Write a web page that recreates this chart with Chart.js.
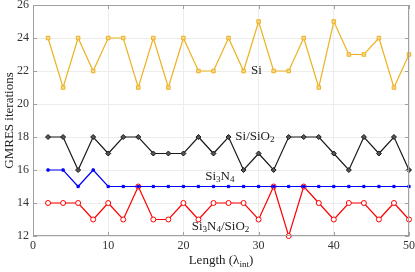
<!DOCTYPE html>
<html>
<head>
<meta charset="utf-8">
<script src="https://cdn.jsdelivr.net/npm/chart.js@4"></script>
<style>
  html, body { margin: 0; padding: 0; background: #fff; }
  #wrap { width: 415px; height: 272px; }
</style>
</head>
<body>
<div id="wrap"><canvas id="myChart" width="415" height="272"></canvas></div>
<script>
const ctx = document.getElementById('myChart').getContext('2d');

const lengths = [2, 4, 6, 8, 10, 12, 14, 16, 18, 20, 22, 24, 26, 28, 30, 32, 34, 36, 38, 40, 42, 44, 46, 48, 50];
const siValues = [24, 21, 24, 22, 24, 24, 21, 24, 21, 24, 22, 22, 24, 22, 25, 22, 22, 24, 21, 25, 23, 23, 24, 21, 23];
const siSiO2Values = [18, 18, 16, 18, 17, 18, 18, 17, 17, 17, 18, 17, 18, 16, 17, 16, 18, 18, 18, 17, 16, 18, 17, 18, 16];
const si3n4Values = [16, 16, 15, 16, 15, 15, 15, 15, 15, 15, 15, 15, 15, 15, 15, 15, 15, 15, 15, 15, 15, 15, 15, 15, 15];
const si3n4SiO2Values = [14, 14, 14, 13, 14, 13, 15, 13, 13, 14, 13, 14, 14, 14, 13, 15, 12, 15, 14, 13, 14, 14, 13, 14, 13];
const xTicks = [0, 10, 20, 30, 40, 50];
const yTicks = [12, 14, 16, 18, 20, 22, 24, 26];

// labels next to the curves: [x, y, parts]  (parts: [text, isSub])
const curveLabels = [
    [29.0, 22.0, [['Si', false]]],
    [26.9, 18.05, [['Si/SiO', false], ['2', true]]],
    [22.9, 15.6, [['Si', false], ['3', true], ['N', false], ['4', true]]],
    [21.1, 12.6, [['Si', false], ['3', true], ['N', false], ['4', true], ['/SiO', false], ['2', true]]]
];

const serif = "'Liberation Serif', 'DejaVu Serif', serif";

const toPoints = (vals) => vals.map((v, i) => ({ x: lengths[i], y: v }));

const drawRich = (c, parts, x, y, size) => {
    let cx = x;
    parts.forEach(([txt, sub]) => {
        c.font = (sub ? size * 0.7 : size) + 'px ' + serif;
        c.fillText(txt, cx, sub ? y + size * 0.25 : y);
        cx += c.measureText(txt).width;
    });
    return cx - x;
};

const decorPlugin = {
    id: 'decor',
    afterDraw(chart) {
        const c = chart.ctx;
        const { left, right, top, bottom } = chart.chartArea;
        const xs = chart.scales.x;
        const ys = chart.scales.y;
        c.save();
        // box + inward ticks
        c.strokeStyle = '#a0a0a0';
        c.lineWidth = 1;
        c.strokeRect(left + 0.5, top + 0.5, right - left - 1, bottom - top - 1);
        c.beginPath();
        xTicks.forEach(t => {
            const px = Math.round(xs.getPixelForValue(t)) + 0.5;
            c.moveTo(px, bottom); c.lineTo(px, bottom - 4);
            c.moveTo(px, top); c.lineTo(px, top + 4);
        });
        yTicks.forEach(t => {
            const py = Math.round(ys.getPixelForValue(t)) + 0.5;
            c.moveTo(left, py); c.lineTo(left + 4, py);
            c.moveTo(right, py); c.lineTo(right - 4, py);
        });
        c.stroke();

        // curve labels
        c.fillStyle = '#222';
        c.textBaseline = 'middle';
        c.textAlign = 'left';
        curveLabels.forEach(([lx, ly, parts]) => {
            drawRich(c, parts, xs.getPixelForValue(lx), ys.getPixelForValue(ly), 13);
        });

        // x axis title with subscript
        const titleParts = [['Length (', false], ['λ', false], ['int', true], [')', false]];
        let w = 0;
        titleParts.forEach(([txt, sub]) => {
            c.font = (sub ? 9.1 : 13) + 'px ' + serif;
            w += c.measureText(txt).width;
        });
        drawRich(c, titleParts, (left + right) / 2 - w / 2, 261, 13);
        c.restore();
    }
};

const makeSet = (label, vals, color, style, radius, fill) => ({
    label: label,
    data: toPoints(vals),
    borderColor: color,
    backgroundColor: fill,
    pointStyle: style,
    pointRadius: radius,
    pointBorderColor: color,
    pointBackgroundColor: fill,
    pointBorderWidth: 1,
    borderWidth: 1.2,
    tension: 0,
    clip: false
});

const data = {
    datasets: [
        makeSet('Si', siValues, '#EDB120', 'rect', 2.5, '#f6d890'),
        makeSet('Si/SiO2', siSiO2Values, '#1a1a1a', 'rectRot', 2.5, '#555'),
        makeSet('Si3N4', si3n4Values, '#0000ff', 'rect', 1.6, '#0000ff'),
        makeSet('Si3N4/SiO2', si3n4SiO2Values, '#ff0000', 'circle', 2.5, '#ffffff')
    ]
};

const config = {
    type: 'line',
    data: data,
    options: {
        responsive: false,
        animation: false,
        layout: { padding: { left: 0, right: 6, top: 4, bottom: 0 } },
        plugins: { legend: { display: false }, tooltip: { enabled: false } },
        scales: {
            x: {
                type: 'linear',
                min: 0, max: 50,
                afterBuildTicks: (s) => { s.ticks = xTicks.map(v => ({ value: v })); },
                afterFit: (s) => { s.height = 36; s.paddingRight = 0; s.paddingLeft = 0; },
                grid: { color: '#ececec', drawTicks: false },
                border: { display: false },
                ticks: { color: '#333', font: { family: serif, size: 12 }, padding: 3, maxRotation: 0 }
            },
            y: {
                min: 12, max: 26,
                afterBuildTicks: (s) => { s.ticks = yTicks.map(v => ({ value: v })); },
                afterFit: (s) => { s.width = 33; s.paddingTop = 0; s.paddingBottom = 0; },
                grid: { color: '#ececec', drawTicks: false },
                border: { display: false },
                ticks: { color: '#333', font: { family: serif, size: 12 }, padding: 4 },
                title: { display: true, text: 'GMRES iterations', color: '#222', font: { family: serif, size: 13 }, padding: { top: 2, bottom: 0 } }
            }
        }
    },
    plugins: [decorPlugin]
};

const myChart = new Chart(ctx, config);
</script>
</body>
</html>
